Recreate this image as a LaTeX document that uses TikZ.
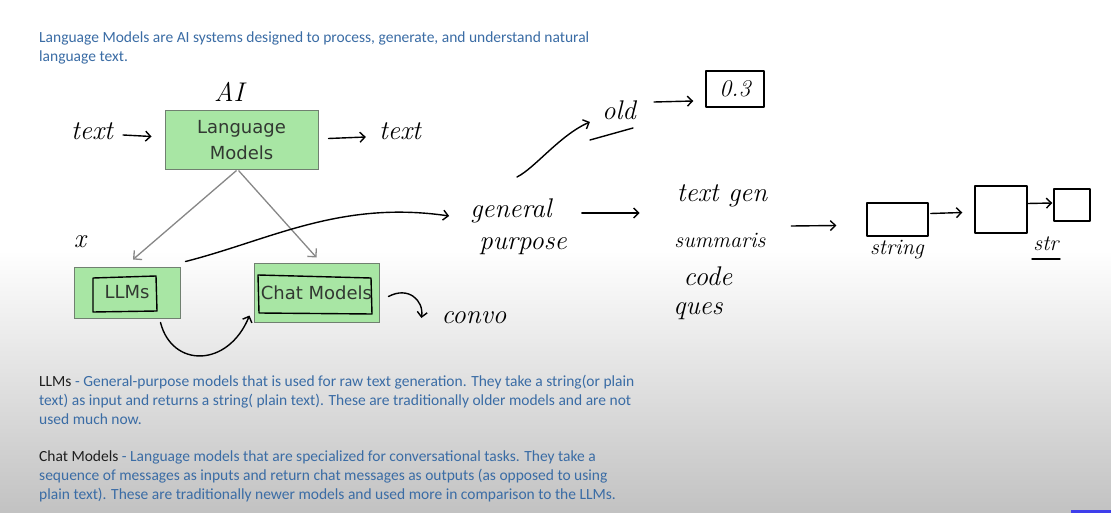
\documentclass[tikz,border=0pt]{standalone}
\usepackage{fontspec}
\newfontfamily\slidefont{Carlito}
\newfontfamily\boxfont{DejaVu Sans}
\usetikzlibrary{arrows.meta, calc}

\definecolor{slideblue}{RGB}{58,108,165}
\definecolor{notedark}{RGB}{30,30,30}
\definecolor{boxgreen}{RGB}{168,230,164}
\definecolor{boxedge}{RGB}{112,128,112}
\definecolor{boxtext}{RGB}{50,56,50}
\definecolor{branchgray}{RGB}{135,135,135}
\definecolor{barblue}{RGB}{62,62,235}

\tikzset{
  slidetext/.style={anchor=north west, align=left, inner sep=0pt, text=slideblue,
    font=\slidefont\fontsize{15.5}{19}\selectfont},
  slidebox/.style={draw=boxedge, fill=boxgreen, line width=1pt, inner sep=0pt,
    align=center, text=boxtext, font=\boxfont\fontsize{18}{26}\selectfont},
  branchline/.style={draw=branchgray, line width=1.3pt, -{Straight Barb[length=6pt,width=12pt]}},
  handnote/.style={inner sep=0pt, font=\itshape\fontsize{27}{30}\selectfont},
  smallnote/.style={handnote, font=\itshape\fontsize{22}{26}\selectfont},
  penline/.style={line width=1.4pt, line cap=round, line join=round},
  penarrow/.style={penline, -{Straight Barb[length=5pt,width=10pt]}},
  penbox/.style={draw, penline, inner sep=0pt},
}

\begin{document}
\begin{tikzpicture}[x=1pt, y=-1pt]
    % Page
    \useasboundingbox (0,0) rectangle (1111,513);
    \fill[white] (0,0) rectangle (1111,250);
    \shade[top color=white, bottom color=black!24] (0,250) rectangle (1111,513);
    \fill[barblue] (1071,510) rectangle (1111,513);

    % Slide text
    \node[slidetext] (intro) at (39,32) {Language Models are AI systems designed to process, generate, and understand natural\\language text.};
    \node[slidetext] (llmnote) at (39,375) {{\color{notedark}LLMs} - General-purpose models that is used for raw text generation. They take a string(or plain\\text) as input and returns a string( plain text). These are traditionally older models and are not\\used much now.};
    \node[slidetext] (chatnote) at (39,451) {{\color{notedark}Chat Models} - Language models that are specialized for conversational tasks. They take a\\sequence of messages as inputs and return chat messages as outputs (as opposed to using\\plain text). These are traditionally newer models and used more in comparison to the LLMs.};

    % Slide boxes
    \node[slidebox, minimum width=153, minimum height=59] (lm) at (241.5,140.5) {Language\\Models};
    \node[slidebox, minimum width=106, minimum height=51] (llms) at (127,292.5) {LLMs};
    \node[slidebox, minimum width=125, minimum height=59] (chat) at (316.5,292.5) {Chat Models};

    \draw[branchline] ($(lm.south)+(-5,0)$) -- ($(llms.north)+(6,-7)$);
    \draw[branchline] ($(lm.south)+(-3,0)$) -- ($(chat.north)+(0,-5)$);

    % Pen marks round the labels
    \draw[penline] (93,278) -- (156,276) -- (157,311) -- (93,312) -- cycle;
    \draw[penline] (258,275) -- (371,278) -- (372,314) -- (259,313) -- cycle;

    % Input and output
    \node[handnote] (ai) at (229,92) {AI};
    \node[handnote] (textin) at (92,131) {text};
    \node[handnote] (textout) at (400,131) {text};
    \node[handnote] (cross) at (80,242) {x};
    \draw[penarrow] ($(textin.east)+(10,4)$) -- ($(lm.west)+(-13,-4)$);
    \draw[penarrow] ($(lm.east)+(10,-2)$) -- ($(textout.west)+(-13,6)$);

    % General purpose
    \node[handnote] (gen) at (511,211) {general};
    \node[handnote] (purpose) at (523,246) {purpose};
    \draw[penarrow] ($(llms.north east)+(5,-5)$) .. controls (270,240) and (340,200) .. ($(gen.west)+(-21,5)$);

    % Chat branch
    \node[handnote] (convo) at (474,318) {convo};
    \draw[penarrow] ($(llms.south east)+(-20,4)$) .. controls (172,368) and (228,368) .. ($(chat.south west)+(-4,-7)$);
    \draw[penarrow] ($(chat.east)+(9,4)$) .. controls (408,286) and (424,300) .. ($(convo.west)+(-20,0)$);

    % Old models
    \coordinate (hook) at (517,177);
    \node[handnote] (old) at (619,110) {old};
    \node[penbox, minimum width=58, minimum height=36] (ver) at (735,89) {\itshape\fontsize{24}{26}\selectfont 0.3};
    \draw[penarrow] (hook) .. controls (535,168) and (560,135) .. ($(old.west)+(-12,12)$);
    \draw[penline] (590,140) -- (633,128);
    \draw[penarrow] ($(old.east)+(18,-8)$) -- ($(ver.west)+(-12,12)$);

    % Tasks
    \node[handnote] (tgen) at (722,196) {text gen};
    \node[smallnote] (summ) at (720,240) {summaris};
    \node[handnote] (code) at (708,276) {code};
    \node[handnote] (ques) at (698,311) {ques};
    \draw[penarrow] ($(gen.east)+(30,2)$) -- ($(tgen.west)+(-37,17)$);

    % String chain
    \node[penbox, minimum width=61, minimum height=33] (sbox) at (897.5,219.5) {};
    \node[penbox, minimum width=52, minimum height=47] (box3) at (1001,209.5) {};
    \node[penbox, minimum width=36, minimum height=32] (box4) at (1072,205) {};
    \node[smallnote] (string) at (897,250) {string};
    \node[smallnote] (str) at (1046,244) {str};
    \draw[penarrow] ($(tgen.east)+(24,30)$) -- ($(sbox.west)+(-30,6)$);
    \draw[penarrow] ($(sbox.east)+(2,-6)$) -- ($(box3.west)+(-12,3)$);
    \draw[penarrow] ($(box3.east)+(0,-6)$) -- ($(box4.west)+(-1,-2)$);
    \draw[penline] (1032,259) -- (1060,259);
\end{tikzpicture}
\end{document}
